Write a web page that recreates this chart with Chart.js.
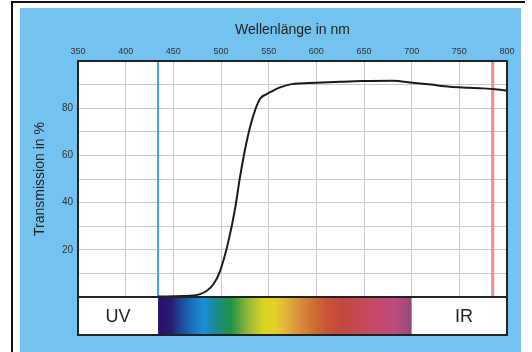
<!DOCTYPE html>
<html lang="de">
<head>
<meta charset="UTF-8">
<title>Transmission</title>
<script src="https://cdn.jsdelivr.net/npm/chart.js"></script>
<style>
    html, body { margin: 0; padding: 0; background: #fff; }
    .wrap { width: 532px; height: 352px; }
</style>
</head>
<body>
<div class="wrap"><canvas id="filterChart" width="532" height="352"></canvas></div>
<script>
// Transmission curve
const wavelengths  = [434, 460, 478, 492, 499, 508, 515, 520, 527, 534, 541, 548, 555, 562, 574, 600, 625, 649, 680, 701, 720, 740, 760, 775, 790, 800];
const transmission = [0.2, 0.4, 1.2, 5.4, 11, 24, 38, 51, 66, 77, 84, 86, 87.5, 88.8, 90.2, 90.8, 91.2, 91.5, 91.6, 90.8, 90, 89.1, 88.7, 88.4, 87.9, 87.4];

// axes
const xMin = 350, xMax = 800, xStep = 50;
const yMin = 0, yMax = 100, yStep = 10;
const yLabelled = [20, 40, 60, 80];

// marker lines (nm)
const uvEdge = 434;
const irEdge = 785;

// visible spectrum strip under the plot
const spectrumNm     = [434, 448, 458, 470, 482, 492, 502, 510, 522, 532, 545, 556, 568, 582, 596, 612, 628, 645, 662, 678, 692, 700];
const spectrumColors = ['#2b0f6b', '#2a1a78', '#1d4a96', '#1a6fc0', '#1890d8', '#1a8aa0', '#1e8e6a', '#1c9444', '#6aa83c', '#a8c038',
                        '#dcd420', '#e0d228', '#e0b43a', '#d8903a', '#d07034', '#c85238', '#c24840', '#c44a52', '#c44c6a', '#c24a7c',
                        '#a84c7e', '#8e4a78'];
const bandLabels  = ['UV', 'IR'];
const bandCentres = [392, 755];

const panelBlue = '#73c2f0';

// background panel, frame, spectrum strip
const sheetPlugin = {
    id: 'sheet',
    beforeDraw(chart) {
        const ctx = chart.ctx;
        const a = chart.chartArea;
        ctx.save();
        ctx.fillStyle = '#fff';
        ctx.fillRect(0, 0, chart.width, chart.height);
        ctx.strokeStyle = '#111';
        ctx.lineWidth = 2;
        ctx.beginPath();
        ctx.moveTo(12, 352);
        ctx.lineTo(12, 2);
        ctx.lineTo(525, 2);
        ctx.stroke();
        ctx.fillStyle = panelBlue;
        ctx.fillRect(20, 8, 501, 344);
        ctx.fillStyle = '#fff';
        ctx.fillRect(a.left, a.top, a.right - a.left, a.bottom - a.top);
        ctx.restore();
    },
    afterDraw(chart) {
        const ctx = chart.ctx;
        const a = chart.chartArea;
        const x = chart.scales.x;
        const stripTop = a.bottom;
        const stripH = 38;
        ctx.save();
        // strip
        ctx.fillStyle = '#fff';
        ctx.fillRect(a.left, stripTop, a.right - a.left, stripH);
        const x0 = x.getPixelForValue(spectrumNm[0]);
        const x1 = x.getPixelForValue(spectrumNm[spectrumNm.length - 1]);
        const grad = ctx.createLinearGradient(x0, 0, x1, 0);
        spectrumNm.forEach((nm, i) => {
            grad.addColorStop((nm - spectrumNm[0]) / (spectrumNm[spectrumNm.length - 1] - spectrumNm[0]), spectrumColors[i]);
        });
        ctx.fillStyle = grad;
        ctx.fillRect(x0, stripTop, x1 - x0, stripH);
        ctx.fillStyle = '#222';
        ctx.font = '18px "Liberation Sans", Arial, sans-serif';
        ctx.textAlign = 'center';
        ctx.textBaseline = 'middle';
        bandLabels.forEach((t, i) => {
            ctx.fillText(t, x.getPixelForValue(bandCentres[i]), stripTop + stripH / 2 + 1);
        });
        // frames
        ctx.strokeStyle = '#222';
        ctx.lineWidth = 2;
        ctx.strokeRect(a.left, a.top, a.right - a.left, a.bottom - a.top);
        ctx.strokeRect(a.left, stripTop, a.right - a.left, stripH);
        ctx.restore();
    }
};

const font = '"Liberation Sans", Arial, sans-serif';

new Chart(document.getElementById('filterChart'), {
    type: 'line',
    data: {
        datasets: [
            {
                label: 'Transmission',
                data: wavelengths.map((w, i) => ({ x: w, y: transmission[i] })),
                borderColor: '#1a1a1a',
                borderWidth: 2,
                pointRadius: 0,
                cubicInterpolationMode: 'monotone',
                fill: false
            },
            {
                label: 'UV',
                data: [{ x: uvEdge, y: yMin }, { x: uvEdge, y: yMax }],
                borderColor: '#3aa6e6',
                borderWidth: 2,
                pointRadius: 0
            },
            {
                label: 'IR',
                data: [{ x: irEdge, y: yMin }, { x: irEdge, y: yMax }],
                borderColor: '#f08c8c',
                borderWidth: 3,
                pointRadius: 0
            }
        ]
    },
    options: {
        responsive: false,
        animation: false,
        layout: { padding: { left: 0, top: 0, right: 25, bottom: 55 } },
        plugins: {
            legend: { display: false },
            tooltip: { enabled: false }
        },
        scales: {
            x: {
                type: 'linear',
                position: 'top',
                min: xMin,
                max: xMax,
                afterFit(scale) { scale.height = 61; },
                ticks: {
                    stepSize: xStep,
                    padding: 4,
                    color: '#333',
                    font: { family: font, size: 9 }
                },
                grid: { color: '#c9c9c9', lineWidth: 1, drawTicks: false },
                border: { display: false },
                title: {
                    display: true,
                    text: 'Wellenlänge in nm',
                    color: '#222',
                    font: { family: font, size: 14 },
                    padding: { top: 22, bottom: 0 }
                }
            },
            y: {
                min: yMin,
                max: yMax,
                afterFit(scale) { scale.width = 78; },
                ticks: {
                    stepSize: yStep,
                    padding: 5,
                    color: '#333',
                    font: { family: font, size: 10 },
                    callback: v => yLabelled.includes(v) ? v : ''
                },
                grid: { color: '#c9c9c9', lineWidth: 1, drawTicks: false },
                border: { display: false },
                title: {
                    display: true,
                    text: 'Transmission in %',
                    color: '#222',
                    font: { family: font, size: 14 },
                    padding: { top: 32, bottom: 0 }
                }
            }
        }
    },
    plugins: [sheetPlugin]
});
</script>
</body>
</html>
